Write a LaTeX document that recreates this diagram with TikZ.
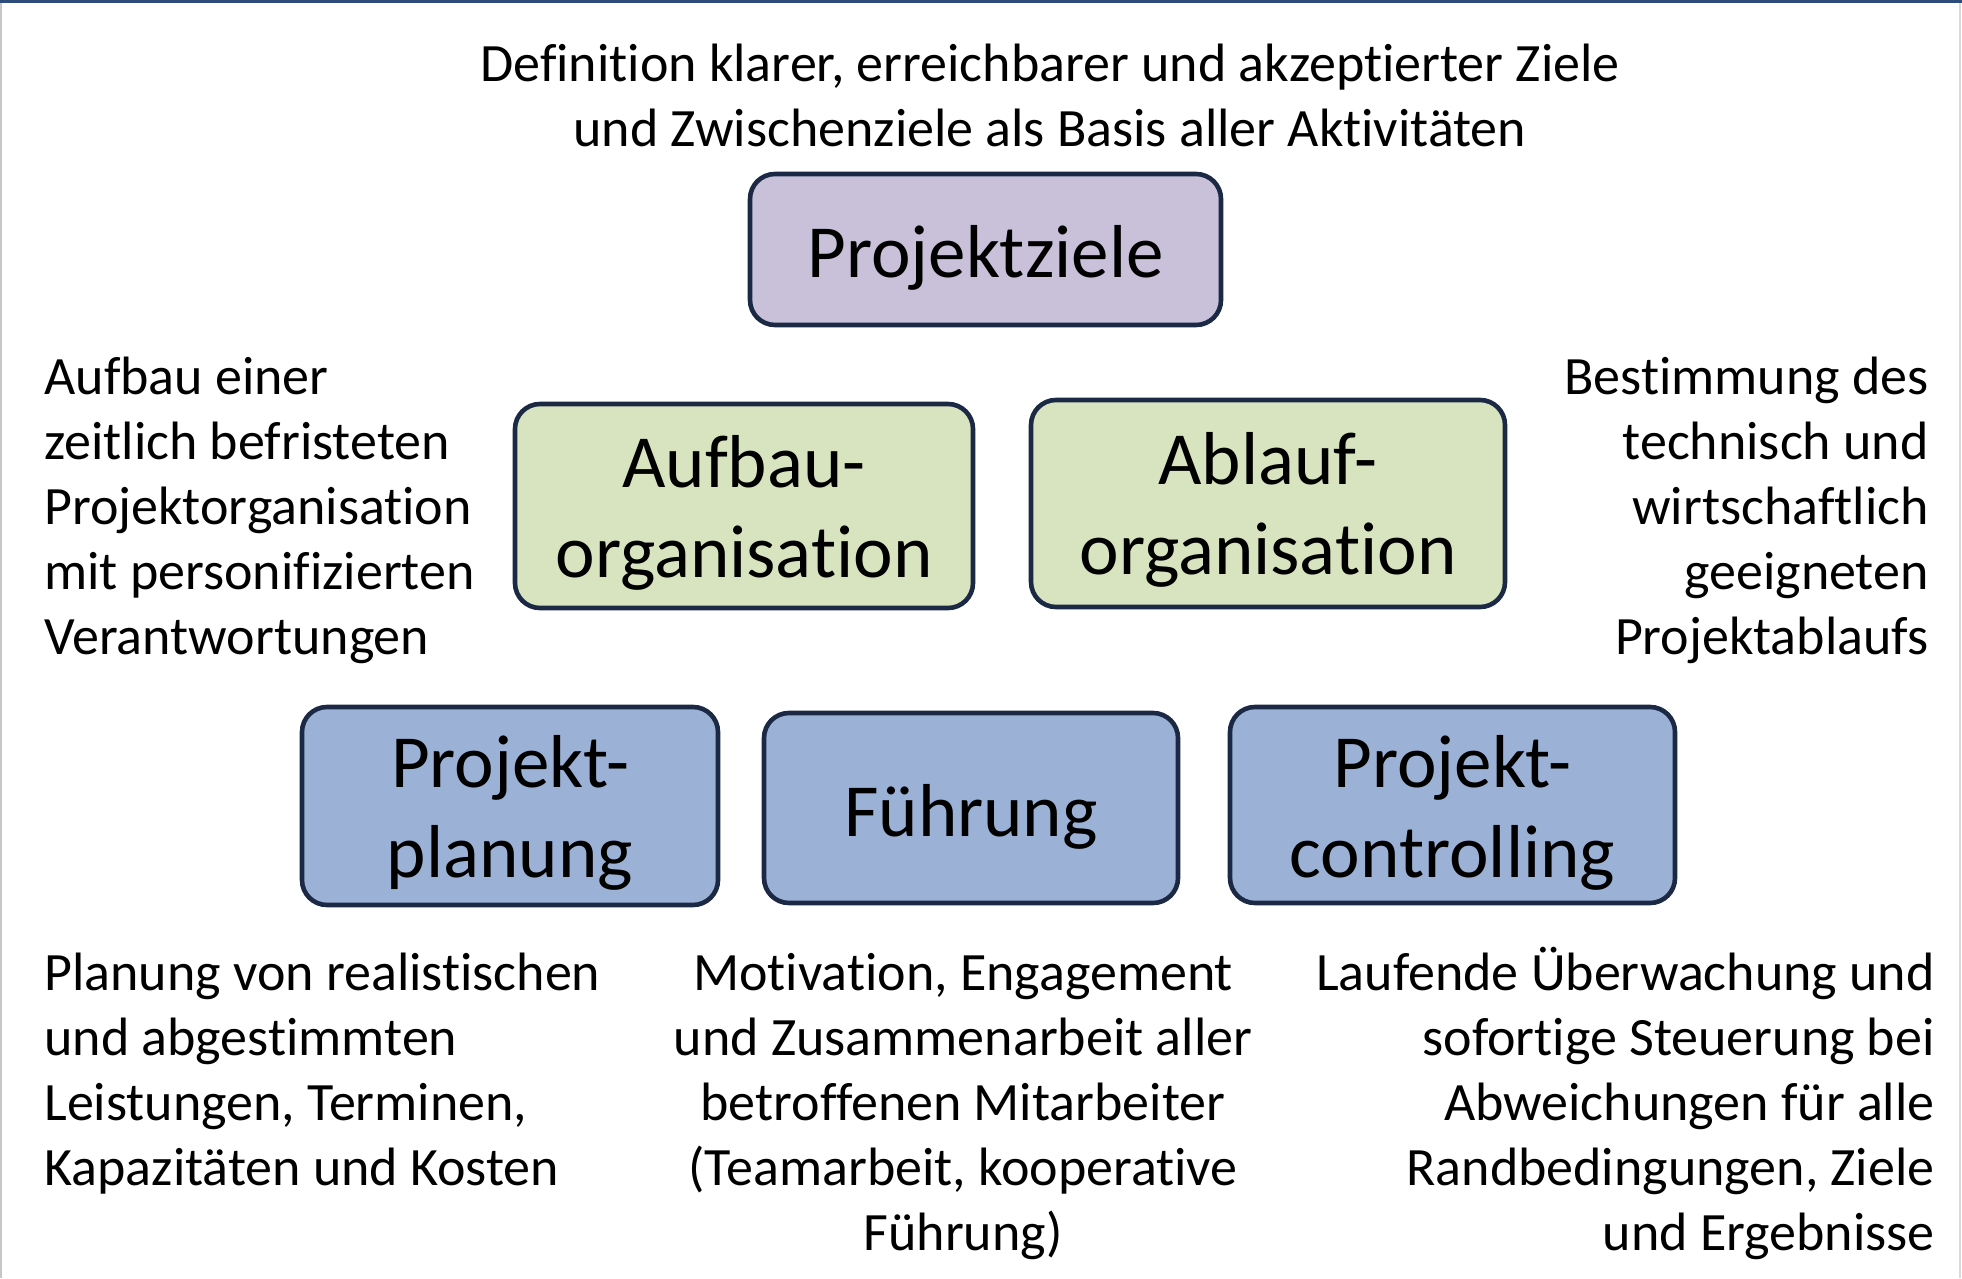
\documentclass[tikz,border=0pt]{standalone}
\usepackage{fontspec}
\setmainfont[Ligatures=NoCommon]{Carlito}
\definecolor{lav}{RGB}{201,192,217}
\definecolor{grn}{RGB}{216,228,191}
\definecolor{blu}{RGB}{155,178,214}
\definecolor{boxline}{RGB}{27,41,68}
\definecolor{topline}{RGB}{47,75,124}
\newcommand\mytab[2]{\begin{tabular}[t]{@{}#1@{}}#2\end{tabular}}
\begin{document}
\begin{tikzpicture}[x=0.5pt,y=-0.5pt,
  box/.style={draw=boxline, line width=2.3pt, rounded corners=12.5pt, inner sep=0pt},
  boxlabel/.style={font=\fontsize{37.5}{45}\selectfont, inner sep=0pt, anchor=base},
  desc/.style={font=\fontsize{27}{32.5}\selectfont, inner sep=0pt}]
\fill[white] (0,0) rectangle (1962,1278);
\useasboundingbox (0,0) rectangle (1962,1278);
\draw[gray!45, line width=1pt] (1,0) -- (1,1278);
\draw[gray!30, line width=1pt] (1960,0) -- (1960,1278);
\draw[topline, line width=1.5pt] (0,1.5) -- (1962,1.5);

% boxes
\node[box, fill=lav, minimum width=235.5pt, minimum height=75.5pt] (pz) at (985.5,249.5) {};
\node[box, fill=grn, minimum width=229pt, minimum height=102pt] (ao) at (744,506) {};
\node[box, fill=grn, minimum width=237pt, minimum height=103.5pt] (al) at (1268,503.5) {};
\node[box, fill=blu, minimum width=208pt, minimum height=99pt] (pp) at (510,806) {};
\node[box, fill=blu, minimum width=207pt, minimum height=95pt] (fu) at (971,808) {};
\node[box, fill=blu, minimum width=222.5pt, minimum height=98pt] (pc) at (1452.5,805) {};

% box labels
\node[boxlabel] (pzt) at (985.5,278) {Projektziele};
\node[boxlabel] (aot) at (744,487) {\mytab{c}{Aufbau-\\organisation}};
\node[boxlabel] (alt) at (1268,484) {\mytab{c}{Ablauf-\\organisation}};
\node[boxlabel] (ppt) at (510,787) {\mytab{c}{Projekt-\\planung}};
\node[boxlabel] (fut) at (971,836) {Führung};
\node[boxlabel] (pct) at (1452.5,787) {\mytab{c}{Projekt-\\controlling}};

% descriptions
\node[desc, anchor=base] (dtop) at (1050,82) {\mytab{c}{Definition klarer, erreichbarer und akzeptierter Ziele\\und Zwischenziele als Basis aller Aktivitäten}};
\node[desc, anchor=base west] (dleft) at (44,394) {\mytab{l}{Aufbau einer\\zeitlich befristeten\\Projektorganisation\\mit personifizierten\\Verantwortungen}};
\node[desc, anchor=base east] (dright) at (1929,394) {\mytab{r}{Bestimmung des\\technisch und\\wirtschaftlich\\geeigneten\\Projektablaufs}};
\node[desc, anchor=base west] (dbl) at (44,990) {\mytab{l}{Planung von realistischen\\und abgestimmten\\Leistungen, Terminen,\\Kapazitäten und Kosten}};
\node[desc, anchor=base] (dbc) at (963,990) {\mytab{c}{Motivation, Engagement\\und Zusammenarbeit aller\\betroffenen Mitarbeiter\\(Teamarbeit, kooperative\\Führung)}};
\node[desc, anchor=base east] (dbr) at (1935,990) {\mytab{r}{Laufende Überwachung und\\sofortige Steuerung bei\\Abweichungen für alle\\Randbedingungen, Ziele\\und Ergebnisse}};
\end{tikzpicture}
\end{document}
